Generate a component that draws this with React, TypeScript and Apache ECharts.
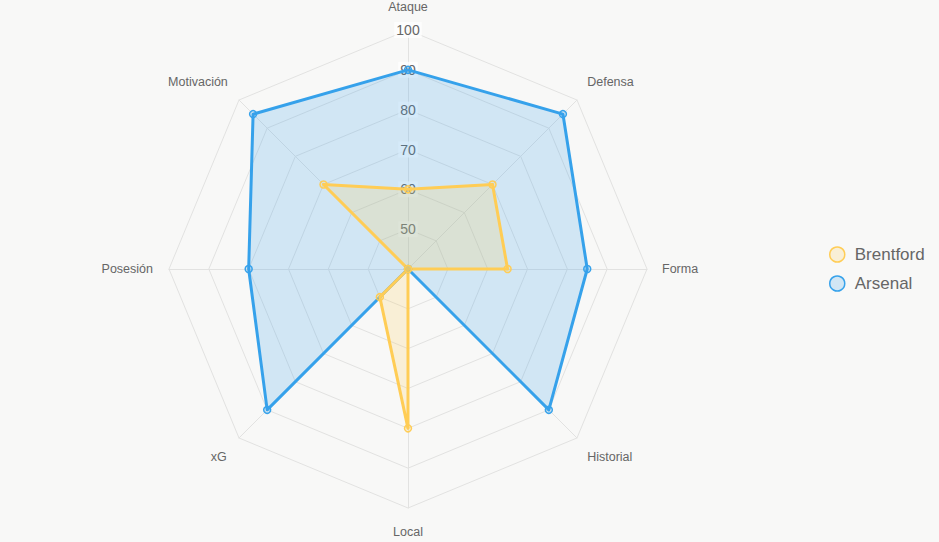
import React, { useEffect, useRef } from "react";
import * as echarts from "echarts";

const axesNames = ["Ataque", "Defensa", "Forma", "Historial", "Local", "xG", "Posesión", "Motivación"];
const brentford = [60, 70, 65, 40, 80, 50, 40, 70];
const arsenal = [90, 95, 85, 90, 40, 90, 80, 95];
const tickValues = [50, 60, 70, 80, 90, 100];
const seriesNames = ["Brentford", "Arsenal"];

const FONT = "'Liberation Sans', Arial, Helvetica, sans-serif";
const CENTER = [408, 269];
const RADIUS = 239;

// extra label padding per axis (top, right, bottom, left), same order as axesNames
const namePadding = [
  [0, 0, 4, 0],
  [0, 0, 18, 1],
  [0, 0, 0, 2],
  [20, 0, 0, 1],
  [4, 0, 0, 0],
  [20, 3, 0, 0],
  [0, 3, 0, 0],
  [0, 2, 18, 0],
];

export default function App() {
  const ref = useRef<HTMLDivElement>(null);
  useEffect(() => {
    if (!ref.current) return;
    const chart = echarts.init(ref.current, null, { renderer: "svg" });
    // ECharts radar runs counter-clockwise; reorder so display is clockwise
    const order = axesNames.map((_, i) => (i === 0 ? 0 : axesNames.length - i));
    const reorder = (arr: any[]) => order.map((i) => arr[i]);
    const yellow = "#ffcd56";
    const blue = "#36a2eb";
    const yellowFill = "rgba(255,205,86,0.2)";
    const blueFill = "rgba(54,162,235,0.2)";
    const grid = "#e2e2e1";
    const rich: Record<string, any> = {};
    axesNames.forEach((_, i) => {
      rich["n" + i] = { color: "#666", fontSize: 12.5, fontFamily: FONT, padding: namePadding[i] };
    });
    chart.setOption({
      animation: false,
      backgroundColor: "#f8f8f7",
      textStyle: { fontFamily: FONT },
      legend: {
        orient: "vertical",
        left: 824,
        top: 241,
        itemGap: 12,
        itemWidth: 15,
        itemHeight: 15,
        icon: "circle",
        textStyle: { color: "#666", fontSize: 17, fontFamily: FONT, padding: [0, 0, 0, 5] },
        data: [
          { name: seriesNames[0], itemStyle: { color: yellowFill, borderColor: yellow, borderWidth: 1.5 } },
          { name: seriesNames[1], itemStyle: { color: blueFill, borderColor: blue, borderWidth: 1.5 } },
        ],
      },
      radar: {
        center: CENTER,
        radius: RADIUS,
        startAngle: 90,
        shape: "polygon",
        splitNumber: 6,
        nameGap: 13,
        axisName: {
          color: "#666",
          fontSize: 12.5,
          fontFamily: FONT,
          formatter: (name: string) => "{n" + axesNames.indexOf(name) + "|" + name + "}",
          rich,
        },
        indicator: reorder(axesNames).map((n: string) => ({ name: n, min: 40, max: 100 })),
        splitLine: { lineStyle: { color: grid, width: 1 } },
        splitArea: { show: false },
        axisLine: { lineStyle: { color: grid, width: 1 } },
        axisTick: { show: false },
        axisLabel: { show: false },
        z: 0,
      },
      polar: { center: CENTER, radius: RADIUS },
      angleAxis: { type: "value", show: false, startAngle: 90 },
      radiusAxis: {
        type: "value",
        min: 40,
        max: 100,
        interval: 10,
        z: 1,
        axisLine: { show: false },
        axisTick: { show: false },
        splitLine: { show: false },
        axisLabel: {
          show: true,
          showMinLabel: false,
          margin: 0,
          align: "center",
          verticalAlign: "middle",
          color: "#666",
          fontSize: 14,
          fontFamily: FONT,
          backgroundColor: "rgba(255,255,255,0.75)",
          padding: [1, 2],
          formatter: (v: number) => (tickValues.indexOf(v) >= 0 ? String(v) : ""),
        },
      },
      series: [
        {
          type: "radar",
          z: 2,
          symbol: "circle",
          symbolSize: 7,
          data: [
            {
              name: seriesNames[1],
              value: reorder(arsenal),
              lineStyle: { color: blue, width: 3, opacity: 1 },
              areaStyle: { color: blueFill, opacity: 1 },
              itemStyle: { color: blueFill, borderColor: blue, borderWidth: 1.5 },
            },
            {
              name: seriesNames[0],
              value: reorder(brentford),
              lineStyle: { color: yellow, width: 3, opacity: 1 },
              areaStyle: { color: yellowFill, opacity: 1 },
              itemStyle: { color: yellowFill, borderColor: yellow, borderWidth: 1.5 },
            },
          ],
        },
      ],
    });
    return () => chart.dispose();
  }, []);
  return (
    <div
      ref={ref}
      style={{ position: "fixed", left: 0, top: 0, width: 939, height: 542 }}
    />
  );
}
